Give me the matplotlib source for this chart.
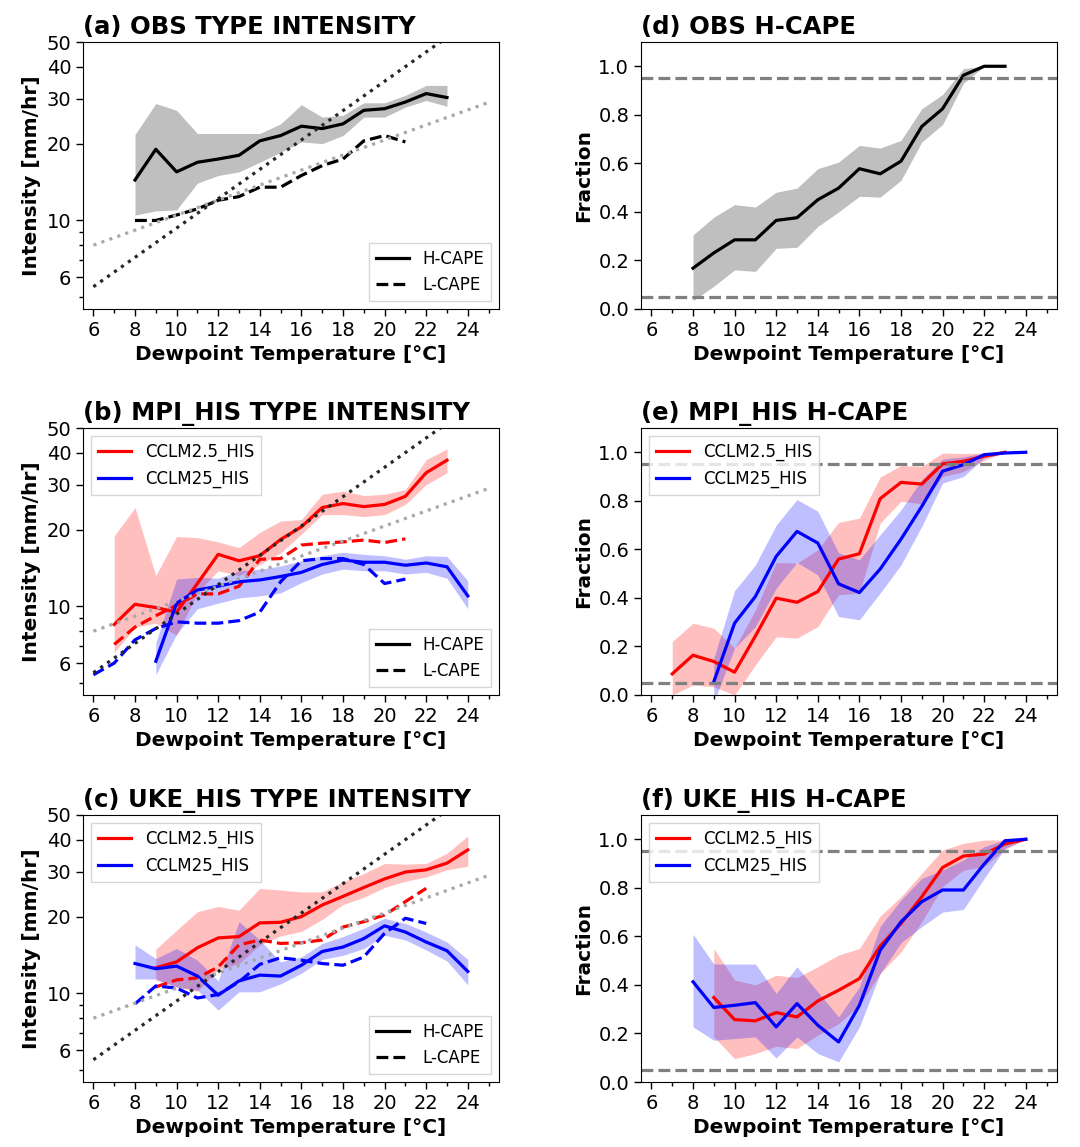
import matplotlib
matplotlib.use("Agg")
import matplotlib.pyplot as plt
from matplotlib.lines import Line2D
from matplotlib.ticker import FixedLocator, NullFormatter, FixedFormatter

# ---- data ----
# reference scaling lines (endpoints at x = 6 and x = 25)
ref_x = [6, 25]
ref_cc = [8.0, 29.0]      # grey dotted
ref_2cc = [5.5, 68.0]     # black dotted

# (a) OBS
obs_hx = list(range(8, 24))
obs_h = [14.4, 19.0, 15.5, 16.9, 17.4, 18.0, 20.5, 21.5, 23.4, 22.9, 23.9, 27.0, 27.4, 29.1, 31.4, 30.3]
obs_h_hi = [21.7, 28.7, 27.0, 21.9, 21.9, 21.9, 21.9, 23.9, 28.4, 25.4, 25.8, 28.9, 28.9, 30.9, 33.8, 33.8]
obs_h_lo = [10.5, 10.9, 11.0, 14.0, 15.0, 15.5, 16.9, 18.5, 20.3, 20.0, 21.5, 25.4, 25.4, 27.8, 29.5, 28.0]
obs_lx = list(range(8, 22))
obs_l = [10.0, 10.0, 10.5, 11.1, 12.0, 12.4, 13.5, 13.5, 15.0, 16.4, 17.4, 20.5, 21.5, 20.3]

# (b) MPI_HIS intensity
mpi_r_hx = list(range(7, 24))
mpi_r_h = [8.5, 10.2, 9.9, 9.5, 12.3, 16.0, 15.1, 15.8, 18.3, 20.5, 24.4, 25.3, 24.6, 25.1, 27.0, 33.4, 37.4]
mpi_r_hi = [18.9, 24.4, 13.2, 18.8, 18.6, 17.9, 17.0, 19.5, 21.6, 21.9, 27.5, 28.3, 27.2, 27.5, 28.7, 37.6, 41.4]
mpi_r_lo = [6.6, 8.3, 8.6, 7.7, 11.3, 13.8, 13.2, 14.6, 16.2, 19.2, 22.9, 22.9, 22.5, 22.9, 25.1, 30.0, 33.4]
mpi_r_lx = list(range(7, 22))
mpi_r_l = [7.1, 8.3, 9.2, 10.1, 11.2, 11.2, 12.0, 15.3, 15.4, 17.4, 17.7, 17.9, 18.2, 17.8, 18.4]
mpi_b_hx = list(range(9, 25))
mpi_b_h = [6.1, 10.3, 11.6, 12.0, 12.5, 12.7, 13.1, 13.6, 14.6, 15.2, 14.9, 14.9, 14.5, 14.8, 14.3, 11.0]
mpi_b_hi = [7.2, 12.8, 13.0, 12.9, 13.8, 14.0, 14.4, 15.1, 15.8, 16.3, 16.0, 15.8, 15.3, 15.8, 15.7, 12.6]
mpi_b_lo = [5.4, 7.8, 9.8, 10.3, 10.8, 11.0, 11.3, 12.4, 13.4, 14.0, 13.8, 13.8, 13.4, 13.6, 12.9, 9.8]
mpi_b_lx = list(range(6, 22))
mpi_b_l = [5.4, 6.0, 7.4, 8.2, 8.7, 8.6, 8.6, 8.8, 9.5, 12.5, 15.1, 15.4, 15.4, 14.6, 12.3, 12.8]

# (c) UKE_HIS intensity
uke_r_hx = list(range(9, 25))
uke_r_h = [12.6, 13.3, 15.1, 16.5, 16.7, 18.9, 19.0, 20.0, 22.2, 24.0, 26.0, 28.1, 29.9, 30.5, 32.4, 36.5]
uke_r_hi = [14.9, 17.7, 20.9, 21.9, 21.2, 25.8, 25.4, 25.0, 25.0, 27.4, 29.5, 32.3, 32.1, 32.3, 35.4, 41.4]
uke_r_lo = [11.3, 10.6, 10.2, 12.4, 13.1, 15.5, 16.8, 17.5, 19.5, 22.3, 23.8, 26.0, 27.5, 28.6, 30.5, 31.5]
uke_r_lx = list(range(9, 23))
uke_r_l = [10.6, 11.3, 11.5, 12.7, 15.5, 16.2, 15.7, 15.8, 16.2, 18.2, 19.1, 20.3, 22.9, 25.8]
uke_b_hx = list(range(8, 25))
uke_b_h = [13.1, 12.5, 12.8, 11.7, 9.85, 11.2, 11.8, 11.7, 12.9, 14.6, 15.2, 16.4, 18.4, 17.4, 15.9, 14.7, 12.2]
uke_b_hi = [15.5, 13.7, 15.0, 13.5, 11.2, 19.1, 16.2, 13.3, 13.9, 15.7, 16.7, 18.0, 19.7, 18.8, 17.4, 15.9, 13.6]
uke_b_lo = [11.4, 11.4, 10.6, 10.3, 8.6, 10.15, 10.15, 10.9, 12.0, 13.6, 14.1, 15.0, 16.9, 16.2, 14.8, 13.4, 10.8]
uke_b_lx = list(range(8, 23))
uke_b_l = [9.1, 10.7, 10.5, 9.6, 9.9, 11.1, 13.0, 13.8, 13.5, 13.1, 12.9, 13.9, 17.2, 19.7, 18.8]

# (d) OBS H-CAPE fraction
obs_fx = list(range(8, 24))
obs_f = [0.168, 0.231, 0.285, 0.285, 0.365, 0.376, 0.45, 0.498, 0.578, 0.557, 0.609, 0.752, 0.825, 0.963, 1.0, 1.0]
obs_f_hi = [0.305, 0.378, 0.43, 0.42, 0.481, 0.498, 0.578, 0.605, 0.674, 0.663, 0.695, 0.825, 0.884, 0.99, 1.0, 1.0]
obs_f_lo = [0.034, 0.094, 0.161, 0.155, 0.25, 0.254, 0.34, 0.40, 0.464, 0.461, 0.53, 0.688, 0.76, 0.93, 1.0, 1.0]

# (e) MPI_HIS H-CAPE fraction
mpi_r_fx = list(range(7, 24))
mpi_r_f = [0.087, 0.164, 0.138, 0.094, 0.243, 0.399, 0.382, 0.426, 0.56, 0.582, 0.809, 0.876, 0.869, 0.952, 0.963, 0.984, 1.0]
mpi_r_f_hi = [0.22, 0.296, 0.275, 0.193, 0.35, 0.546, 0.543, 0.598, 0.711, 0.729, 0.898, 0.945, 0.942, 0.997, 0.995, 0.997, 1.0]
mpi_r_f_lo = [0.0, 0.041, 0.034, 0.0, 0.124, 0.24, 0.234, 0.282, 0.413, 0.42, 0.708, 0.798, 0.788, 0.90, 0.92, 0.967, 1.0]
mpi_b_fx = list(range(9, 25))
mpi_b_f = [0.055, 0.296, 0.406, 0.571, 0.674, 0.626, 0.458, 0.422, 0.519, 0.642, 0.777, 0.922, 0.949, 0.99, 0.997, 1.0]
mpi_b_f_hi = [0.151, 0.43, 0.536, 0.70, 0.805, 0.757, 0.585, 0.557, 0.66, 0.763, 0.887, 0.972, 0.981, 0.997, 1.0, 1.0]
mpi_b_f_lo = [-0.03, 0.193, 0.282, 0.44, 0.546, 0.495, 0.323, 0.31, 0.42, 0.536, 0.695, 0.873, 0.90, 0.977, 0.995, 1.0]

# (f) UKE_HIS H-CAPE fraction
uke_r_fx = list(range(9, 25))
uke_r_f = [0.348, 0.257, 0.252, 0.286, 0.268, 0.334, 0.378, 0.426, 0.56, 0.653, 0.763, 0.884, 0.931, 0.939, 0.981, 1.0]
uke_r_f_hi = [0.55, 0.42, 0.40, 0.44, 0.43, 0.475, 0.523, 0.55, 0.684, 0.763, 0.86, 0.956, 0.983, 0.997, 0.997, 1.0]
uke_r_f_lo = [0.186, 0.096, 0.117, 0.147, 0.138, 0.193, 0.24, 0.316, 0.447, 0.536, 0.66, 0.805, 0.873, 0.887, 0.959, 1.0]
uke_b_fx = list(range(8, 25))
uke_b_f = [0.413, 0.307, 0.316, 0.327, 0.227, 0.323, 0.234, 0.165, 0.316, 0.543, 0.66, 0.743, 0.791, 0.791, 0.898, 0.994, 1.0]
uke_b_f_hi = [0.609, 0.486, 0.486, 0.486, 0.365, 0.475, 0.371, 0.268, 0.392, 0.642, 0.75, 0.839, 0.873, 0.915, 0.97, 0.997, 1.0]
uke_b_f_lo = [0.227, 0.172, 0.179, 0.186, 0.099, 0.186, 0.117, 0.083, 0.227, 0.447, 0.574, 0.64, 0.70, 0.711, 0.839, 0.963, 1.0]

x_ticks = [6, 8, 10, 12, 14, 16, 18, 20, 22, 24]
x_minor = [7, 9, 11, 13, 15, 17, 19, 21, 23, 25]
y_ticks = [6, 10, 20, 30, 40, 50]
y_minor = [5, 7, 8, 9]
frac_ticks = [0.0, 0.2, 0.4, 0.6, 0.8, 1.0]

plt.rcParams['font.family'] = ['DejaVu Sans']

fig = plt.figure(figsize=(10.8, 11.47), dpi=100)

W, H = 1080.0, 1147.0
col_left = [83, 641]
row_top = [42, 428, 815]
ax_w, ax_h = 416, 267


def make_ax(col, row):
    l = col_left[col] / W
    b = 1 - (row_top[row] + ax_h) / H
    return fig.add_axes([l, b, ax_w / W, ax_h / H])


def style_x(ax):
    ax.set_xlim(5.5, 25.5)
    ax.set_xticks(x_ticks)
    ax.xaxis.set_minor_locator(FixedLocator(x_minor))
    ax.tick_params(axis='both', which='major', labelsize=14, length=5, width=1)
    ax.tick_params(axis='both', which='minor', length=3, width=1)
    ax.set_xlabel('Dewpoint Temperature [°C]', fontsize=14.5, fontweight='bold')


def style_intensity(ax, title):
    ax.set_yscale('log')
    ax.set_ylim(4.5, 50)
    ax.yaxis.set_major_locator(FixedLocator(y_ticks))
    ax.yaxis.set_major_formatter(FixedFormatter([str(v) for v in y_ticks]))
    ax.yaxis.set_minor_locator(FixedLocator(y_minor))
    ax.yaxis.set_minor_formatter(NullFormatter())
    ax.set_ylabel('Intensity [mm/hr]', fontsize=14.5, fontweight='bold')
    ax.set_title(title, loc='left', fontsize=17.5, fontweight='bold')
    ax.plot(ref_x, ref_cc, ':', color='darkgray', lw=2.3)
    ax.plot(ref_x, ref_2cc, ':', color='0.15', lw=2.3)
    style_x(ax)


def style_fraction(ax, title):
    ax.set_ylim(0, 1.1)
    ax.set_yticks(frac_ticks)
    ax.set_yticklabels(['%.1f' % v for v in frac_ticks])
    ax.axhline(0.05, color='gray', ls='--', lw=2.3)
    ax.axhline(0.95, color='gray', ls='--', lw=2.3)
    ax.set_ylabel('Fraction', fontsize=14.5, fontweight='bold')
    ax.set_title(title, loc='left', fontsize=17.5, fontweight='bold')
    style_x(ax)


def cape_legend(ax):
    handles = [Line2D([], [], color='k', lw=2.3, ls='-'),
               Line2D([], [], color='k', lw=2.3, ls='--')]
    leg = ax.legend(handles, ['H-CAPE', 'L-CAPE'], loc='lower right',
                    fontsize=12, fancybox=False, edgecolor='0.8')
    return leg


def model_legend(ax, loc='upper left'):
    handles = [Line2D([], [], color='red', lw=2.3),
               Line2D([], [], color='blue', lw=2.3)]
    leg = ax.legend(handles, ['CCLM2.5_HIS', 'CCLM25_HIS'], loc=loc,
                    fontsize=12, fancybox=False, edgecolor='0.8')
    return leg


# (a)
ax = make_ax(0, 0)
ax.fill_between(obs_hx, obs_h_lo, obs_h_hi, color='gray', alpha=0.5, lw=0)
ax.plot(obs_hx, obs_h, color='k', lw=2.3)
ax.plot(obs_lx, obs_l, color='k', lw=2.3, ls='--')
style_intensity(ax, '(a) OBS TYPE INTENSITY')
cape_legend(ax)

# (b)
ax = make_ax(0, 1)
ax.fill_between(mpi_r_hx, mpi_r_lo, mpi_r_hi, color='red', alpha=0.25, lw=0)
ax.fill_between(mpi_b_hx, mpi_b_lo, mpi_b_hi, color='blue', alpha=0.25, lw=0)
ax.plot(mpi_r_hx, mpi_r_h, color='red', lw=2.3)
ax.plot(mpi_r_lx, mpi_r_l, color='red', lw=2.3, ls='--')
ax.plot(mpi_b_hx, mpi_b_h, color='blue', lw=2.3)
ax.plot(mpi_b_lx, mpi_b_l, color='blue', lw=2.3, ls='--')
style_intensity(ax, '(b) MPI_HIS TYPE INTENSITY')
leg1 = model_legend(ax)
ax.add_artist(leg1)
cape_legend(ax)

# (c)
ax = make_ax(0, 2)
ax.fill_between(uke_r_hx, uke_r_lo, uke_r_hi, color='red', alpha=0.25, lw=0)
ax.fill_between(uke_b_hx, uke_b_lo, uke_b_hi, color='blue', alpha=0.25, lw=0)
ax.plot(uke_r_hx, uke_r_h, color='red', lw=2.3)
ax.plot(uke_r_lx, uke_r_l, color='red', lw=2.3, ls='--')
ax.plot(uke_b_hx, uke_b_h, color='blue', lw=2.3)
ax.plot(uke_b_lx, uke_b_l, color='blue', lw=2.3, ls='--')
style_intensity(ax, '(c) UKE_HIS TYPE INTENSITY')
leg1 = model_legend(ax)
ax.add_artist(leg1)
cape_legend(ax)

# (d)
ax = make_ax(1, 0)
ax.fill_between(obs_fx, obs_f_lo, obs_f_hi, color='gray', alpha=0.5, lw=0)
ax.plot(obs_fx, obs_f, color='k', lw=2.3)
style_fraction(ax, '(d) OBS H-CAPE')

# (e)
ax = make_ax(1, 1)
ax.fill_between(mpi_r_fx, mpi_r_f_lo, mpi_r_f_hi, color='red', alpha=0.25, lw=0)
ax.fill_between(mpi_b_fx, mpi_b_f_lo, mpi_b_f_hi, color='blue', alpha=0.25, lw=0)
ax.plot(mpi_r_fx, mpi_r_f, color='red', lw=2.3)
ax.plot(mpi_b_fx, mpi_b_f, color='blue', lw=2.3)
style_fraction(ax, '(e) MPI_HIS H-CAPE')
model_legend(ax)

# (f)
ax = make_ax(1, 2)
ax.fill_between(uke_r_fx, uke_r_f_lo, uke_r_f_hi, color='red', alpha=0.25, lw=0)
ax.fill_between(uke_b_fx, uke_b_f_lo, uke_b_f_hi, color='blue', alpha=0.25, lw=0)
ax.plot(uke_r_fx, uke_r_f, color='red', lw=2.3)
ax.plot(uke_b_fx, uke_b_f, color='blue', lw=2.3)
style_fraction(ax, '(f) UKE_HIS H-CAPE')
model_legend(ax)

fig.savefig('out.png', dpi=100)
plt.close(fig)
